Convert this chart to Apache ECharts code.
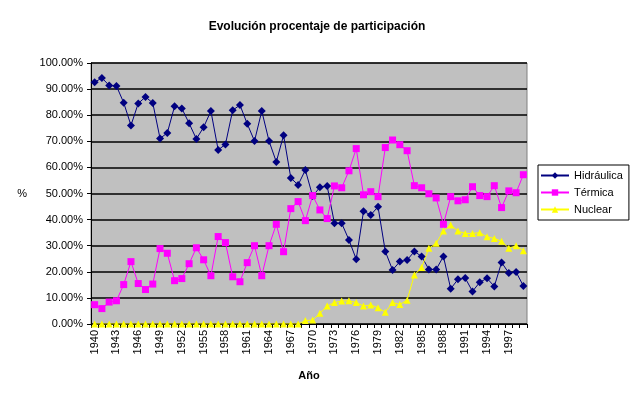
<!DOCTYPE html>
<html>
<head>
<meta charset="utf-8">
<script src="https://cdn.jsdelivr.net/npm/echarts@6/dist/echarts.min.js"></script>
<style>
html,body{margin:0;padding:0;background:#fff;}
#chart{width:632px;height:395px;}
</style>
</head>
<body>
<div id="chart"></div>
<script>
const years = ['1940','1941','1942','1943','1944','1945','1946','1947','1948','1949',
'1950','1951','1952','1953','1954','1955','1956','1957','1958','1959',
'1960','1961','1962','1963','1964','1965','1966','1967','1968','1969',
'1970','1971','1972','1973','1974','1975','1976','1977','1978','1979',
'1980','1981','1982','1983','1984','1985','1986','1987','1988','1989',
'1990','1991','1992','1993','1994','1995','1996','1997','1998','1999'];

const hidraulica = [92.6,94.3,91.4,91.2,84.8,76.1,84.5,87.0,84.7,71.1,
73.2,83.4,82.6,76.9,70.9,75.4,81.6,66.7,68.8,81.9,
83.9,76.7,70.1,81.6,70.1,62.1,72.3,55.9,53.3,59.0,
49.0,52.4,52.9,38.6,38.6,32.2,24.8,43.2,41.8,44.9,
27.8,20.7,23.9,24.5,27.8,25.9,20.9,20.9,25.9,13.5,
17.1,17.6,12.5,16.0,17.5,14.4,23.6,19.5,19.9,14.6];

const termica = [7.4,5.9,8.4,8.9,15.1,23.9,15.5,13.2,15.3,28.9,
27.1,16.6,17.4,23.1,29.2,24.6,18.5,33.5,31.2,18.1,
16.2,23.5,30.0,18.5,30.0,38.2,27.7,44.2,46.9,39.6,
49.2,43.7,40.4,52.9,52.2,58.7,67.2,49.5,50.7,48.8,
67.6,70.5,68.7,66.4,53.0,52.2,49.9,48.3,38.2,48.8,
47.2,47.6,52.6,49.2,48.8,53.0,44.6,51.0,50.3,57.2];

const nuclear = [0,0,0,0,0,0,0,0,0,0,
0,0,0,0,0,0,0,0,0,0,
0,0,0,0,0,0,0,0,0,1.3,
1.5,4.1,6.9,8.2,8.8,8.9,8.2,6.9,7.3,6.2,
4.5,8.2,7.5,9.1,18.8,21.6,29.0,30.9,35.6,37.9,
35.6,34.7,34.7,35.0,33.4,32.8,31.7,29.0,30.0,28.1];

const seriesNames = ['Hidráulica','Térmica','Nuclear'];
const titleText = 'Evolución procentaje de participación';
const xName = 'Año';
const yName = '%';

const FONT = '"Liberation Sans", Arial, sans-serif';
const chart = echarts.init(document.getElementById('chart'), null, {renderer:'canvas'});
chart.setOption({
  animation: false,
  backgroundColor: '#ffffff',
  textStyle: {fontFamily: FONT, color: '#000'},
  title: {
    text: titleText,
    left: 312, textAlign: 'center', top: 16,
    textStyle: {fontFamily: FONT, fontSize: 12, fontWeight: 'bold', color: '#000'}
  },
  grid: {
    left: 91, right: 105, top: 63, bottom: 71,
    show: true, backgroundColor: '#c0c0c0', borderColor: '#808080', borderWidth: 1
  },
  legend: {
    orient: 'vertical',
    left: 538, top: 165,
    padding: [5, 6, 5, 2],
    itemGap: 6,
    itemWidth: 28, itemHeight: 8,
    borderColor: '#000', borderWidth: 1,
    backgroundColor: '#fff',
    textStyle: {fontFamily: FONT, fontSize: 11, color: '#000'},
    data: seriesNames
  },
  xAxis: {
    type: 'category',
    data: years,
    boundaryGap: true,
    name: xName,
    nameLocation: 'middle',
    nameGap: 46,
    nameTextStyle: {fontFamily: FONT, fontSize: 11, fontWeight: 'bold', color: '#000'},
    axisLine: {lineStyle: {color: '#000', width: 1}},
    axisTick: {show: true, interval: 0, length: 4, lineStyle: {color: '#000'}},
    axisLabel: {interval: 2, rotate: 90, fontFamily: FONT, fontSize: 11, color: '#000', margin: 6},
    splitLine: {show: false}
  },
  yAxis: {
    type: 'value',
    min: 0, max: 100, interval: 10,
    name: yName,
    nameLocation: 'middle',
    nameRotate: 0,
    nameGap: 64,
    nameTextStyle: {fontFamily: FONT, fontSize: 11, color: '#000'},
    axisLine: {show: true, lineStyle: {color: '#000', width: 1}},
    axisTick: {show: true, length: 4, lineStyle: {color: '#000'}},
    axisLabel: {fontFamily: FONT, fontSize: 11, color: '#000', margin: 8,
      formatter: function(v){ return v.toFixed(2) + '%'; }},
    splitLine: {show: true, lineStyle: {color: '#000', width: 1.5}}
  },
  series: [
    {name: seriesNames[0], type: 'line', data: hidraulica, symbol: 'diamond', symbolSize: 8,
     showAllSymbol: true,
     itemStyle: {color: '#000080'}, lineStyle: {color: '#000080', width: 1}},
    {name: seriesNames[1], type: 'line', data: termica, symbol: 'rect', symbolSize: 7,
     showAllSymbol: true,
     itemStyle: {color: '#ff00ff'}, lineStyle: {color: '#ff00ff', width: 1}},
    {name: seriesNames[2], type: 'line', data: nuclear, symbol: 'triangle', symbolSize: 7,
     showAllSymbol: true,
     itemStyle: {color: '#ffff00'}, lineStyle: {color: '#ffff00', width: 1}}
  ]
});
</script>
</body>
</html>
